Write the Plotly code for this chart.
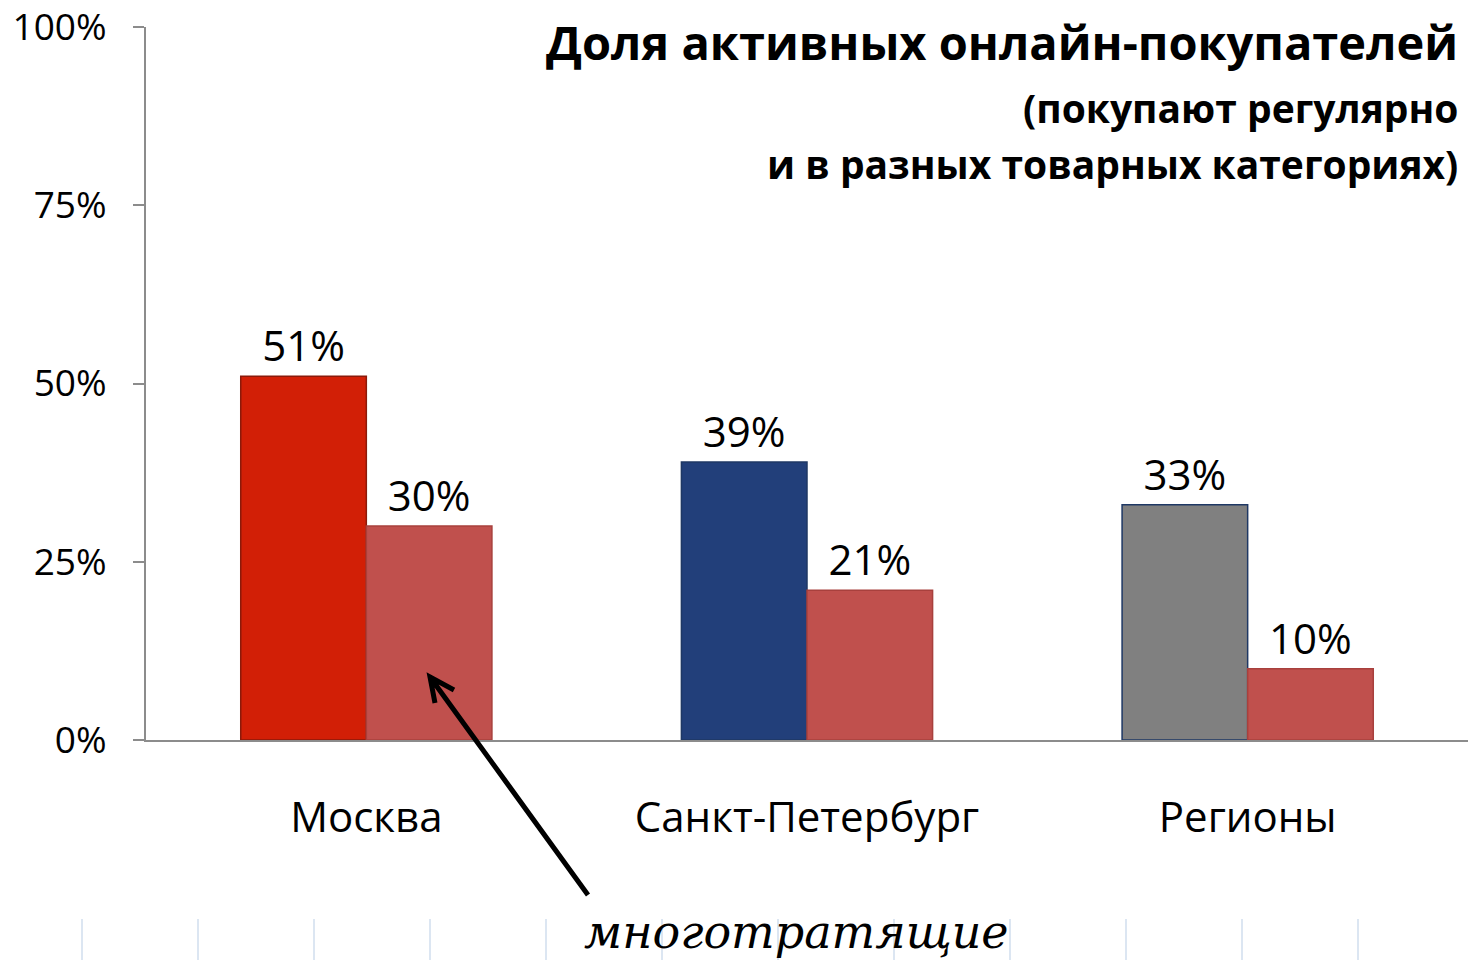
import plotly.graph_objects as go

# ---- data ----
categories = ["Москва", "Санкт-Петербург", "Регионы"]
active_share = [51, 39, 33]
bigspender_share = [30, 21, 10]
active_colors = ["#D21F06", "#223F7A", "#808080"]
active_lines = ["#8B1A0A", "#1F3864", "#1F3864"]
bigspender_color = "#C0504D"
y_ticks = [0, 25, 50, 75, 100]
y_tick_labels = ["0%", "25%", "50%", "75%", "100%"]
title_main = "Доля активных онлайн-покупателей"
title_sub1 = "(покупают регулярно"
title_sub2 = "и в разных товарных категориях)"
note_text = "многотратящие"

W, H = 1468, 960
ML, MR, MT, MB = 146, 0, 27, 220
PW, PH = W - ML - MR, H - MT - MB


def px(x):
    return (x - ML) / PW


def py(y):
    return (H - MB - y) / PH


FONT = "Open Sans"

fig = go.Figure()
fig.add_trace(go.Bar(
    x=categories, y=active_share,
    marker=dict(color=active_colors, line=dict(color=active_lines, width=1.5)),
    text=[f"{v}%" for v in active_share], textposition="outside",
    textfont=dict(size=42, color="#000000", family=FONT),
    cliponaxis=False, showlegend=False,
))
fig.add_trace(go.Bar(
    x=categories, y=bigspender_share,
    marker=dict(color=bigspender_color, line=dict(color="#A8403D", width=1.5)),
    text=[f"{v}%" for v in bigspender_share], textposition="outside",
    textfont=dict(size=42, color="#000000", family=FONT),
    cliponaxis=False, showlegend=False,
))

shapes = []
# faint decorative vertical lines at the bottom
for i in range(12):
    xx = 82 + 116 * i
    shapes.append(dict(type="line", xref="paper", yref="paper",
                       x0=px(xx), x1=px(xx), y0=py(919), y1=py(960),
                       line=dict(color="#DCE6F2", width=2), layer="below"))
# arrow pointing to the bigspender bar
tail = (588, 895)
head = (430, 677)
arm1 = (435, 703)
arm2 = (454, 690)
path = (f"M {px(tail[0])},{py(tail[1])} L {px(head[0])},{py(head[1])} "
        f"M {px(arm1[0])},{py(arm1[1])} L {px(head[0])},{py(head[1])} L {px(arm2[0])},{py(arm2[1])}")
shapes.append(dict(type="path", xref="paper", yref="paper", path=path,
                   line=dict(color="#000000", width=5)))

annotations = [
    dict(text=f"<b>{title_main}</b>", xref="paper", yref="paper",
         x=px(1460), y=py(42), xanchor="right", yanchor="middle",
         showarrow=False, font=dict(size=47, color="#000000", family=FONT)),
    dict(text=f"<b>{title_sub1}</b>", xref="paper", yref="paper",
         x=px(1460), y=py(107), xanchor="right", yanchor="middle",
         showarrow=False, font=dict(size=39, color="#000000", family=FONT)),
    dict(text=f"<b>{title_sub2}</b>", xref="paper", yref="paper",
         x=px(1460), y=py(163), xanchor="right", yanchor="middle",
         showarrow=False, font=dict(size=39, color="#000000", family=FONT)),
    dict(text=note_text, xref="paper", yref="paper",
         x=px(796), y=py(932), xanchor="center", yanchor="middle",
         showarrow=False,
         font=dict(size=46, color="#000000", family="DejaVu Serif", style="italic")),
]

fig.update_layout(
    width=W, height=H,
    margin=dict(l=ML, r=MR, t=MT, b=MB),
    paper_bgcolor="white", plot_bgcolor="white",
    barmode="group", bargap=0.43, bargroupgap=0,
    shapes=shapes, annotations=annotations,
    font=dict(family=FONT, color="#000000"),
    xaxis=dict(
        showline=True, linecolor="#8C8C8C", linewidth=2,
        ticks="", showgrid=False,
        tickfont=dict(size=42, family=FONT, color="#000000"),
        ticklabelstandoff=40,
    ),
    yaxis=dict(
        range=[0, 100], tickvals=y_ticks, ticktext=y_tick_labels,
        showline=True, linecolor="#8C8C8C", linewidth=2,
        ticks="outside", ticklen=11, tickcolor="#8C8C8C", tickwidth=2,
        showgrid=False, zeroline=False,
        tickfont=dict(size=37, family=FONT, color="#000000"),
        ticklabelstandoff=19, ticklabeloverflow="allow",
    ),
)

fig.write_html(
    "out.html",
    config={"displayModeBar": False},
    post_script="document.body.style.margin='0';document.body.style.overflow='hidden';",
)
